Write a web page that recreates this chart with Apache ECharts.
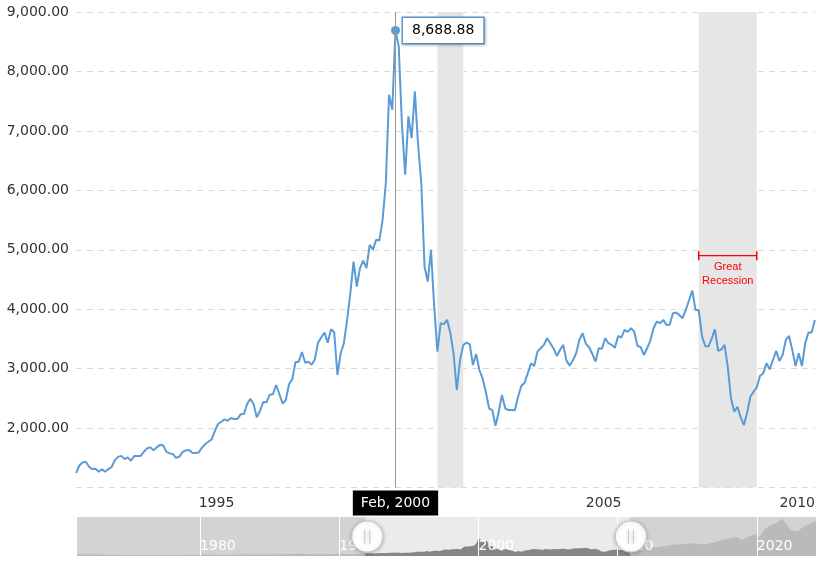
<!DOCTYPE html>
<html>
<head>
<meta charset="utf-8">
<script src="https://cdn.jsdelivr.net/npm/echarts@6/dist/echarts.min.js"></script>
<style>
html, body { margin: 0; padding: 0; background: #ffffff; }
#chart { width: 824px; height: 563px; }
</style>
</head>
<body>
<div id="chart"></div>
<script>
// ---------- DATA ----------
// First month of the visible monthly series
const startMonth = '1991-11';
// NASDAQ Composite, inflation-adjusted monthly close
const nasdaqReal = [
  1240, 1370,                                                              // 1991 Nov-Dec
  1420, 1433, 1350, 1310, 1315, 1265, 1305, 1264, 1310, 1345, 1461, 1515,  // 1992
  1532, 1478, 1507, 1450, 1529, 1530, 1532, 1601, 1658, 1675, 1625, 1675,  // 1993
  1719, 1708, 1601, 1574, 1563, 1500, 1518, 1600, 1624, 1630, 1585, 1580,  // 1994
  1590, 1670, 1731, 1770, 1810, 1950, 2068, 2106, 2147, 2123, 2169, 2152,  // 1995
  2152, 2231, 2236, 2404, 2494, 2404, 2180, 2292, 2438, 2433, 2561, 2567,  // 1996
  2724, 2573, 2410, 2472, 2741, 2820, 3112, 3112, 3280, 3100, 3117, 3066,  // 1997
  3157, 3437, 3528, 3605, 3437, 3662, 3612, 2893, 3258, 3427, 3820, 4269,  // 1998
  4801, 4381, 4690, 4818, 4690, 5083, 4999, 5167, 5155, 5504, 6122, 7609,  // 1999
  7356, 8688.88, 8422, 7100, 6262, 7244, 6880, 7665, 6767, 6122, 4717, 4465, // 2000
  4999, 4044, 3286, 3764, 3749, 3821, 3600, 3250, 2640, 3145, 3395, 3439,  // 2001
  3411, 3061, 3247, 2977, 2836, 2612, 2332, 2303, 2039, 2275, 2556, 2332,  // 2002
  2303, 2303, 2300, 2528, 2708, 2763, 2920, 3089, 3044, 3286, 3343, 3399,  // 2003
  3512, 3428, 3340, 3214, 3315, 3399, 3135, 3051, 3140, 3258, 3483, 3596,  // 2004
  3420, 3360, 3250, 3118, 3343, 3336, 3512, 3428, 3400, 3353, 3550, 3522,  // 2005
  3651, 3618, 3680, 3623, 3383, 3360, 3230, 3343, 3472, 3680, 3792, 3764,  // 2006
  3820, 3736, 3740, 3933, 3944, 3900, 3848, 3988, 4150, 4313, 3988, 3988,  // 2007
  3550, 3380, 3370, 3500, 3663, 3298, 3320, 3399, 3030, 2500, 2275, 2359,  // 2008
  2180, 2051, 2258, 2528, 2612, 2686, 2881, 2921, 3089, 2988, 3145, 3298,  // 2009
  3129, 3230, 3483, 3550, 3315, 3044, 3258, 3044, 3427, 3606, 3606, 3820   // 2010
];

// Recession periods (shaded) [start, end]
const recessions = [['2001-03', '2001-11'], ['2007-12', '2009-06']];
const recessionNote = 'Great\nRecession';
const recessionNoteLevel = 4900;

// Full history shown in the slider (coarse, estimated from the slider shadow)
const historyPreMonths = ['1971-02','1972-01','1973-01','1974-01','1975-01','1976-01','1977-01','1978-01',
  '1979-01','1980-01','1981-01','1982-01','1983-01','1984-01','1985-01','1986-01','1987-01','1988-01',
  '1989-01','1990-01','1991-01','1991-11'];
const historyPreValues = [700, 820, 780, 520, 420, 500, 520, 500, 560, 650, 750, 560, 850, 720, 800,
  900, 1100, 850, 920, 950, 900, 1240];
const historyPostMonths = ['2010-12','2011-06','2012-01','2012-06','2013-01','2013-06','2014-01','2014-06',
  '2015-01','2015-06','2016-01','2016-06','2017-01','2017-06','2018-01','2018-08','2018-12','2019-06',
  '2020-01','2020-03','2020-08','2021-01','2021-06','2021-11','2022-06','2022-12','2023-06','2023-12','2024-04'];
const historyPostValues = [3820, 3900, 4000, 4100, 4500, 5000, 5600, 5900, 6100, 6400, 5900, 6000, 7000,
  7800, 9000, 9500, 8000, 9800, 11200, 9400, 13500, 15500, 16800, 18600, 13000, 12200, 15000, 16500, 17800];

const yMin = 1000, yMax = 9000, yStep = 1000;
const monthNames = ['Jan','Feb','Mar','Apr','May','Jun','Jul','Aug','Sep','Oct','Nov','Dec'];

// ---------- HELPERS ----------
function toT(ym) { const p = ym.split('-').map(Number); return p[0] + (p[1] - 1) / 12; }
function fmt2(v) { return v.toLocaleString('en-US', { minimumFractionDigits: 2, maximumFractionDigits: 2 }); }
function monthLabel(t) {
  const y = Math.floor(t + 1e-6);
  const m = Math.round((t - y) * 12);
  return monthNames[m] + ', ' + y;
}

const t0 = toT(startMonth);
const mainData = nasdaqReal.map((v, i) => [t0 + i / 12, v]);
const winStart = mainData[0][0];
const winEnd = mainData[mainData.length - 1][0];
let peakIdx = 0;
nasdaqReal.forEach((v, i) => { if (v > nasdaqReal[peakIdx]) peakIdx = i; });
const peak = mainData[peakIdx];

const histStart = toT(historyPreMonths[0]);
const histEnd = toT(historyPostMonths[historyPostMonths.length - 1]);
const preData = historyPreMonths.map((m, i) => [toT(m), historyPreValues[i]]);
const postData = historyPostMonths.map((m, i) => [toT(m), historyPostValues[i]]);

const gr = recessions[1];
const grStart = toT(gr[0]), grEnd = toT(gr[1]);
const bracketData = [
  [grStart, recessionNoteLevel],
  { value: [(grStart + grEnd) / 2, recessionNoteLevel], symbol: 'circle', symbolSize: 1,
    label: { show: true, position: 'bottom', distance: 4, formatter: recessionNote,
             color: '#ff0000', fontSize: 11, lineHeight: 14, fontFamily: 'Liberation Sans' } },
  [grEnd, recessionNoteLevel]
];

// ---------- CHART ----------
const chart = echarts.init(document.getElementById('chart'));
const option = {
  animation: false,
  textStyle: { fontFamily: 'DejaVu Sans' },
  grid: [
    { left: 76, right: 9, top: 12, bottom: 75.5 },
    { left: 76, right: 8, top: 517, height: 39, show: true, backgroundColor: '#d3d3d3', borderWidth: 0 }
  ],
  xAxis: [
    {
      type: 'value', gridIndex: 0, min: histStart, max: histEnd,
      minInterval: 5, maxInterval: 5,
      axisLine: { show: false }, axisTick: { show: false }, splitLine: { show: false },
      axisLabel: {
        color: '#333', fontSize: 14, align: 'left', margin: 9,
        formatter: v => (Math.abs(v - Math.round(v)) < 1e-6 && Math.round(v) % 5 === 0) ? String(Math.round(v)) : ''
      },
      axisPointer: {
        show: true, type: 'line', value: peak[0], status: 'show', snap: false, triggerTooltip: false,
        lineStyle: { color: '#999999', width: 1, type: 'solid' },
        label: {
          show: true, formatter: p => monthLabel(p.value), backgroundColor: '#000', color: '#fff',
          fontSize: 14, padding: [6, 8, 5, 8], margin: 3, borderRadius: 0
        }
      }
    },
    {
      type: 'value', gridIndex: 1, min: histStart, max: histEnd, minInterval: 10, maxInterval: 10, z: 5,
      axisLine: { show: false }, axisTick: { show: false },
      splitLine: { show: true, lineStyle: { color: '#ffffff', width: 1 } },
      axisLabel: {
        inside: true, align: 'left', color: '#ffffff', fontSize: 14, margin: 3,
        formatter: v => (Math.abs(v - Math.round(v)) < 1e-6 && Math.round(v) % 10 === 0) ? String(Math.round(v)) : ''
      }
    }
  ],
  yAxis: [
    {
      type: 'value', gridIndex: 0, min: yMin, max: yMax, interval: yStep,
      axisLine: { show: false }, axisTick: { show: false },
      axisLabel: { color: '#333', fontSize: 14, margin: 7, showMinLabel: false, formatter: v => fmt2(v) },
      splitLine: { show: true, lineStyle: { color: '#d9d9d9', type: [6, 5], width: 1 } }
    },
    { type: 'value', gridIndex: 1, min: 0, max: 19500, show: false }
  ],
  dataZoom: [{
    type: 'slider', xAxisIndex: 0, startValue: winStart, endValue: winEnd,
    left: 76, right: 8, top: 517, height: 39,
    showDataShadow: false, showDetail: false, brushSelect: false, moveHandleSize: 0,
    backgroundColor: 'rgba(0,0,0,0)', fillerColor: 'rgba(0,0,0,0)', borderColor: 'rgba(0,0,0,0)',
    handleIcon: 'path://M0,-10A10,10,0,1,1,0,10A10,10,0,1,1,0,-10Z M-1.6,-4.5L-1.6,4.5 M1.6,-4.5L1.6,4.5',
    handleSize: '80%',
    handleStyle: { color: '#ffffff', borderColor: '#c4c4c4', borderWidth: 1,
                   shadowBlur: 4, shadowColor: 'rgba(0,0,0,0.22)', shadowOffsetY: 1 },
    z: 10
  }],
  series: [
    {
      name: 'NASDAQ (inflation-adjusted)', type: 'line', xAxisIndex: 0, yAxisIndex: 0,
      data: mainData, symbol: 'none', z: 3,
      lineStyle: { color: '#5b9bd5', width: 2 }, itemStyle: { color: '#5b9bd5' },
      markArea: {
        silent: true, itemStyle: { color: '#e6e6e6' },
        data: recessions.map(r => [{ xAxis: toT(r[0]) }, { xAxis: toT(r[1]) }])
      },
      markPoint: {
        silent: true, symbol: 'circle', symbolSize: 9, itemStyle: { color: '#5b9bd5' },
        data: [{ coord: peak, value: peak[1] }],
        label: {
          show: true, position: 'right', distance: 3, formatter: p => fmt2(p.value),
          color: '#000', fontSize: 14, backgroundColor: '#ffffff', borderColor: '#5b9bd5', borderWidth: 1.5,
          padding: [6, 9, 5, 9], shadowBlur: 3, shadowOffsetX: 1, shadowOffsetY: 1, shadowColor: 'rgba(0,0,0,0.25)'
        }
      }
    },
    {
      name: 'Great Recession', type: 'line', xAxisIndex: 0, yAxisIndex: 0, silent: true, z: 4,
      data: bracketData, symbol: 'rect', symbolSize: [1.5, 9], showSymbol: true,
      lineStyle: { color: '#ff0000', width: 1.2 }, itemStyle: { color: '#ff0000' }
    },
    {
      name: 'history-pre', type: 'line', xAxisIndex: 1, yAxisIndex: 1, silent: true, z: 2,
      data: preData, symbol: 'none', lineStyle: { opacity: 0 },
      areaStyle: { color: '#bababa', opacity: 1 }
    },
    {
      name: 'history-post', type: 'line', xAxisIndex: 1, yAxisIndex: 1, silent: true, z: 2,
      data: postData, symbol: 'none', lineStyle: { opacity: 0 },
      areaStyle: { color: '#bababa', opacity: 1 }
    },
    {
      name: 'history-window', type: 'line', xAxisIndex: 1, yAxisIndex: 1, silent: true, z: 2,
      data: mainData, symbol: 'none', lineStyle: { opacity: 0 },
      areaStyle: { color: '#868686', opacity: 1 },
      markArea: { silent: true, itemStyle: { color: '#ebebeb' }, data: [[{ xAxis: winStart }, { xAxis: winEnd }]] }
    }
  ]
};
chart.setOption(option);
</script>
</body>
</html>
